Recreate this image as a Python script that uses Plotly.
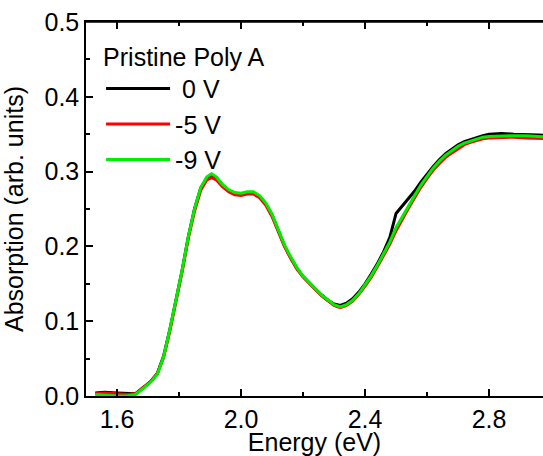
import plotly.graph_objects as go

energy = [1.53, 1.56, 1.60, 1.63, 1.66, 1.69, 1.71, 1.73, 1.75, 1.77, 1.79, 1.81, 1.83, 1.85, 1.87, 1.89,
          1.905, 1.92, 1.94, 1.96, 1.98, 2.00, 2.02, 2.04, 2.06, 2.08, 2.10, 2.12, 2.14, 2.16, 2.18,
          2.20, 2.22, 2.24, 2.26, 2.28, 2.30, 2.32, 2.34, 2.36, 2.38, 2.40, 2.42, 2.44, 2.46, 2.48,
          2.50, 2.52, 2.54, 2.56, 2.58, 2.60, 2.62, 2.64, 2.66, 2.68, 2.70, 2.72, 2.74, 2.76, 2.78,
          2.80, 2.84, 2.88, 2.92, 2.96, 3.00]

abs_0v = [0.004, 0.005, 0.004, 0.003, 0.003, 0.013, 0.020, 0.030, 0.053, 0.088, 0.126, 0.168, 0.213,
          0.250, 0.278, 0.292, 0.295, 0.292, 0.282, 0.275, 0.271, 0.270, 0.272, 0.272, 0.267, 0.257,
          0.242, 0.221, 0.201, 0.185, 0.171, 0.160, 0.151, 0.143, 0.135, 0.128, 0.123, 0.121, 0.124,
          0.130, 0.139, 0.150, 0.163, 0.177, 0.193, 0.212, 0.244, 0.254, 0.263, 0.274, 0.286, 0.297,
          0.307, 0.316, 0.324, 0.330, 0.336, 0.340, 0.343, 0.346, 0.348, 0.350, 0.351, 0.350, 0.350,
          0.349, 0.348]

abs_m5v = [0.003, 0.004, 0.003, 0.002, 0.003, 0.013, 0.020, 0.030, 0.051, 0.086, 0.124, 0.166, 0.211,
           0.247, 0.275, 0.289, 0.292, 0.289, 0.280, 0.273, 0.269, 0.268, 0.270, 0.270, 0.265, 0.255,
           0.240, 0.219, 0.200, 0.184, 0.170, 0.159, 0.150, 0.142, 0.134, 0.127, 0.121, 0.118, 0.121,
           0.127, 0.136, 0.147, 0.159, 0.173, 0.188, 0.203, 0.221, 0.237, 0.251, 0.265, 0.279, 0.291,
           0.302, 0.311, 0.319, 0.325, 0.331, 0.336, 0.339, 0.342, 0.344, 0.345, 0.346, 0.346, 0.345,
           0.345, 0.344]

abs_m9v = [0.002, 0.001, 0.000, 0.000, 0.002, 0.012, 0.019, 0.029, 0.052, 0.088, 0.126, 0.168, 0.213,
           0.250, 0.279, 0.293, 0.297, 0.293, 0.283, 0.276, 0.272, 0.271, 0.273, 0.273, 0.268, 0.258,
           0.243, 0.222, 0.202, 0.186, 0.172, 0.160, 0.151, 0.143, 0.135, 0.128, 0.122, 0.119, 0.122,
           0.128, 0.137, 0.149, 0.161, 0.175, 0.190, 0.206, 0.225, 0.240, 0.254, 0.268, 0.282, 0.294,
           0.305, 0.314, 0.322, 0.328, 0.334, 0.338, 0.341, 0.344, 0.346, 0.347, 0.348, 0.348, 0.348,
           0.347, 0.346]

series_names = ["\u00a00 V", "-5 V", "-9 V"]
series_colors = ["#000000", "#ff0000", "#00ee00"]
series_values = [abs_0v, abs_m5v, abs_m9v]

FONT = "Arial, Liberation Sans, sans-serif"
FS = 25
X_RANGE = [1.5, 2.974]

fig = go.Figure()
for name, color, vals in zip(series_names, series_colors, series_values):
    fig.add_trace(go.Scatter(x=energy, y=vals, mode="lines", name=name,
                             line=dict(color=color, width=3)))

axis_common = dict(showline=True, linecolor="black", linewidth=1.5, ticks="inside",
                   ticklen=7, tickwidth=1.5, tickcolor="black", showgrid=False, zeroline=False,
                   automargin=False,
                   tickfont=dict(family=FONT, size=FS, color="black"))

fig.update_xaxes(range=X_RANGE, tick0=1.6, dtick=0.4, tickformat=".1f", mirror="ticks",
                 minor=dict(ticks="inside", ticklen=4, tickwidth=1.5, tickcolor="black", dtick=0.2, tick0=1.6),
                 title=dict(text="Energy (eV)", font=dict(family=FONT, size=FS, color="black")),
                 **axis_common)
fig.update_yaxes(range=[0, 0.5], tick0=0, dtick=0.1, tickformat=".1f", mirror=False,
                 minor=dict(ticks="inside", ticklen=4, tickwidth=1.5, tickcolor="black", dtick=0.05),
                 title=dict(text="Absorption (arb. units)", font=dict(family=FONT, size=FS, color="black")),
                 **axis_common)

# top frame line of the plot area
fig.add_shape(type="line", xref="paper", yref="paper", x0=0, x1=1, y0=1, y1=1,
              line=dict(color="black", width=1.5), layer="above")

fig.update_layout(
    width=543, height=456,
    margin=dict(l=86, r=0, t=22, b=60),
    paper_bgcolor="white", plot_bgcolor="white",
    font=dict(family=FONT, size=FS, color="black"),
    showlegend=True,
    legend=dict(title=dict(text="Pristine Poly A", font=dict(family=FONT, size=FS)),
                x=0.033, y=0.97, xanchor="left", yanchor="top", bgcolor="rgba(0,0,0,0)",
                itemwidth=64, font=dict(family=FONT, size=FS), tracegroupgap=0),
)

fig.write_html("out.html", config={"displayModeBar": False},
               post_script="document.body.style.margin='0';document.body.style.overflow='hidden';")
